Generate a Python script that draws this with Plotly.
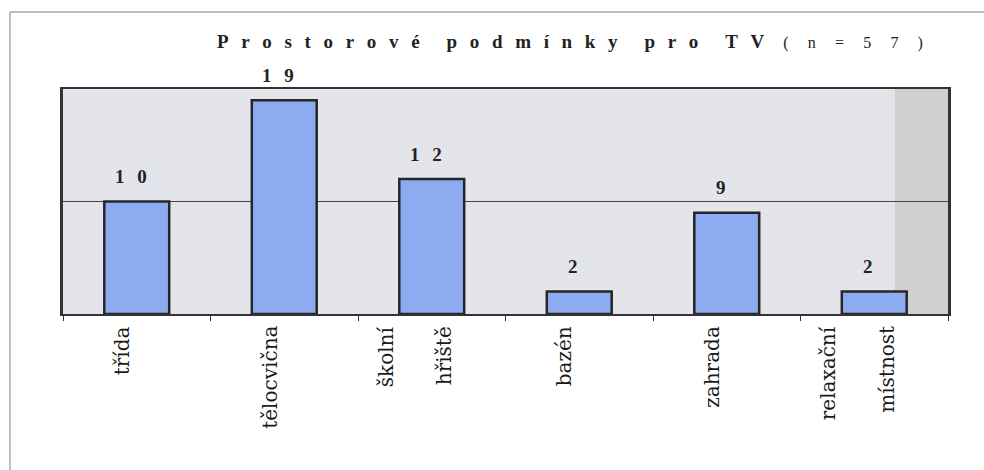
import plotly.graph_objects as go

# ---- data ----
categories = ["třída", "tělocvična", "školní hřiště", "bazén", "zahrada", "relaxační místnost"]
counts = [10, 19, 12, 2, 9, 2]
title_main = "Prostorové podmínky pro TV"
title_n = "(n = 57)"

FONT = "Liberation Serif, Times New Roman, Times, serif"
LABEL_FONT = "DejaVu Serif"
SEP = "\u2002\u2006"          # wide letter spacing as in the scanned original
WSEP = SEP + "\u2002\u2005"


def spaced(s, sep=SEP, wsep=WSEP):
    return wsep.join(sep.join(w) for w in s.split(" "))


fig = go.Figure()
fig.add_trace(go.Bar(
    x=categories, y=counts, width=0.44,
    marker=dict(color="#8DABF0", line=dict(color="#262626", width=2.5)),
    hoverinfo="skip", showlegend=False,
))

annotations = []
for c, v in zip(categories, counts):
    # value labels above bars
    annotations.append(dict(
        x=c, y=v, xref="x", yref="y", text="<b>" + SEP.join(str(v)) + "</b>", showarrow=False,
        xshift=-6, yshift=25, yanchor="middle",
        font=dict(family=FONT, size=19, color="#222"),
    ))
    # rotated category labels (multi-word labels are spread over columns)
    words = c.split(" ")
    shifts = [-15] if len(words) == 1 else [-46, 12]
    for w, s in zip(words, shifts):
        annotations.append(dict(
            x=c, y=0, xref="x", yref="y", text=w, showarrow=False,
            xshift=s, yshift=-10, yanchor="top", xanchor="center", textangle=-90,
            font=dict(family=LABEL_FONT, size=20, color="#1a1a1a"),
        ))

# title
annotations.append(dict(
    x=(215 - 63) / 885, y=1.21, xref="paper", yref="paper", xanchor="left", yanchor="middle",
    showarrow=False,
    text="<b>" + spaced(title_main) + "</b>" + "\u2003"
         + "<span style='font-size:16px'>" + spaced(title_n, sep="\u2003\u2009", wsep="\u2003\u2009") + "</span>",
    font=dict(family=FONT, size=19, color="#222"),
))

shapes = [
    # stippled strip at the right of the plot area
    dict(type="rect", xref="paper", yref="paper", x0=0.94, x1=1.0, y0=0, y1=1,
         fillcolor="#d0d0d0", line=dict(width=0), layer="below"),
    # outer frame of the scanned page
    dict(type="line", xref="paper", yref="paper", x0=-0.0599, x1=1.05, y0=1.342, y1=1.342,
         line=dict(color="#a8a8a8", width=1.5)),
    dict(type="line", xref="paper", yref="paper", x0=-0.0599, x1=-0.0599, y0=1.342, y1=-0.7,
         line=dict(color="#a8a8a8", width=1.5)),
]

fig.update_layout(
    width=984, height=470,
    margin=dict(l=63, r=36, t=89, b=156),
    paper_bgcolor="white", plot_bgcolor="#E4E5EA",
    font=dict(family=FONT),
    annotations=annotations, shapes=shapes,
    showlegend=False,
    xaxis=dict(
        type="category", range=[-0.5, 5.5], showticklabels=False,
        tickson="boundaries", ticks="outside", ticklen=5, tickcolor="#333", tickwidth=1,
        showline=True, mirror=True, linecolor="#333", linewidth=2, showgrid=False,
    ),
    yaxis=dict(
        range=[0, 20], dtick=10, showticklabels=False, ticks="",
        showgrid=True, gridcolor="#444", gridwidth=1.2, zeroline=False,
        showline=True, mirror=True, linecolor="#333", linewidth=3,
    ),
)

fig.write_html("out.html")
